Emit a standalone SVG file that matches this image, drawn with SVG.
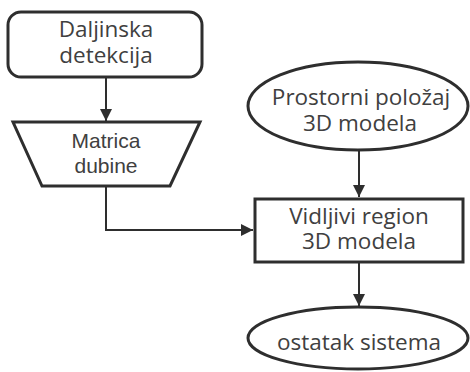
<svg xmlns="http://www.w3.org/2000/svg" width="470" height="372" viewBox="0 0 470 372">
  <style>
    .shape { fill: #ffffff; stroke: #2e2e2e; stroke-width: 3; }
    .label { font-family: "Open Sans", "DejaVu Sans", sans-serif; font-size: 22.5px; fill: #404040; text-anchor: middle; }
    .label-alt { font-family: "Liberation Sans", Arial, sans-serif; font-size: 21px; fill: #404040; text-anchor: middle; }
    .edge { fill: none; stroke: #2e2e2e; stroke-width: 2; marker-end: url(#arrow); }
  </style>
  <defs>
    <marker id="arrow" viewBox="0 0 12 12" refX="12" refY="6" markerWidth="12" markerHeight="12" markerUnits="userSpaceOnUse" orient="auto">
      <path d="M0,0 L12,6 L0,12 Z" fill="#2e2e2e"/>
    </marker>
  </defs>
  <rect width="470" height="372" fill="#ffffff"/>

  <!-- connectors -->
  <g id="connectors">
    <path class="edge" d="M106,77 L106,121"/>
    <path class="edge" d="M106,187 L106,230 L253,230"/>
    <path class="edge" d="M359,151 L359,197"/>
    <path class="edge" d="M359,263 L359,306"/>
  </g>

  <g id="daljinska-detekcija">
    <rect class="shape" x="8" y="12" width="194" height="65" rx="13" ry="13"/>
    <text class="label" x="106" y="37">Daljinska</text>
    <text class="label" x="106" y="63">detekcija</text>
  </g>

  <g id="matrica-dubine">
    <polygon class="shape" points="13,122 200,122 170,186 42,186"/>
    <text class="label-alt" x="106" y="148">Matrica</text>
    <text class="label-alt" x="106" y="173">dubine</text>
  </g>

  <g id="prostorni-polozaj">
    <ellipse class="shape" cx="358" cy="106" rx="110" ry="44"/>
    <text class="label" x="361" y="105">Prostorni položaj</text>
    <text class="label" x="360" y="131">3D modela</text>
  </g>

  <g id="vidljivi-region">
    <rect class="shape" x="255" y="199" width="208" height="63"/>
    <text class="label" x="359" y="224">Vidljivi region</text>
    <text class="label" x="359" y="249">3D modela</text>
  </g>

  <g id="ostatak-sistema">
    <ellipse class="shape" cx="358" cy="338" rx="110" ry="31"/>
    <text class="label" x="359" y="350">ostatak sistema</text>
  </g>
</svg>
